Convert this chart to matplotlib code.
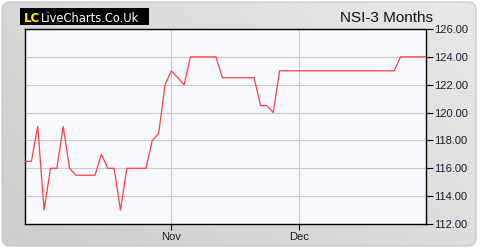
import numpy as np
import pandas as pd
import matplotlib
matplotlib.use('Agg')
import matplotlib.pyplot as plt
from matplotlib.patches import FancyBboxPatch, Rectangle

# Data
TITLE = 'NSI-3 Months'
# two November sessions are missing from the price feed
MISSING_DAYS = ['2023-11-14', '2023-11-21']
DATES = pd.bdate_range('2023-09-29', '2023-12-29', freq='C', holidays=MISSING_DAYS)
PRICES = [116.5, 116.5, 119.0, 113.0, 116.0, 116.0, 119.0, 116.0, 115.5, 115.5,
          115.5, 115.5, 117.0, 116.0, 116.0, 113.0, 116.0, 116.0, 116.0, 116.0,
          118.0, 118.5, 122.0, 123.0, 122.5, 122.0, 124.0, 124.0, 124.0, 124.0,
          124.0, 122.5, 122.5, 122.5, 122.5, 122.5, 122.5, 120.5, 120.5, 120.0,
          123.0, 123.0, 123.0, 123.0, 123.0, 123.0, 123.0, 123.0, 123.0, 123.0,
          123.0, 123.0, 123.0, 123.0, 123.0, 123.0, 123.0, 123.0, 123.0, 124.0,
          124.0, 124.0, 124.0, 124.0]
MONTH_LABELS = ['Nov', 'Dec']
Y_TICKS = [112, 114, 116, 118, 120, 122, 124, 126]

W, H = 480, 250
fig = plt.figure(figsize=(W / 100, H / 100), dpi=100)
fig.patch.set_facecolor('white')

# gray gradient panel with rounded corners
bg = fig.add_axes([0, 0, 1, 1])
bg.set_xlim(0, W)
bg.set_ylim(0, H)
bg.axis('off')
gx, gy = np.meshgrid(np.linspace(0, 1, 200), np.linspace(0, 1, 100))
grad = 0.80 + 0.11 * (0.6 * gx + 0.4 * gy)
panel = FancyBboxPatch((2, 4), W - 6, H - 6, boxstyle='round,pad=0,rounding_size=8',
                       facecolor='none', edgecolor='#c4c4c4', lw=0.8)
bg.add_patch(panel)
img = bg.imshow(grad, cmap='gray', vmin=0, vmax=1, extent=[0, W, 0, H],
                origin='lower', aspect='auto')
img.set_clip_path(panel)

# logo
bg.add_patch(Rectangle((20, H - 25), 129, 17, facecolor='black', edgecolor='none'))
bg.text(24, H - 21.5, 'LC', color='#ffee00', fontsize=8.5, fontweight='bold',
        family='DejaVu Sans', va='baseline')
bg.text(41, H - 21.5, 'LiveCharts.Co.Uk', color='white', fontsize=8.3,
        family='DejaVu Sans', va='baseline')
bg.text(433, H - 22, TITLE, color='#111111', fontsize=11,
        family='Liberation Sans', ha='right', va='baseline')

# price chart
ax = fig.add_axes([25 / W, 26 / H, 401 / W, 195 / H])
ax.set_facecolor('#f8f9ff')
x = np.arange(len(PRICES))
ax.plot(x, PRICES, color='#ff4040', lw=0.9, zorder=3)

ax.set_xlim(0, len(PRICES) - 1)
ax.set_ylim(Y_TICKS[0], Y_TICKS[-1])

labels = [d.strftime('%b') for d in DATES]
month_starts = [labels.index(m) for m in MONTH_LABELS]
ax.set_xticks(month_starts)
ax.set_xticklabels(MONTH_LABELS)
ax.set_yticks(Y_TICKS)
ax.set_yticklabels([f'{v:.2f}' for v in Y_TICKS])
ax.yaxis.tick_right()

ax.grid(True, color='#c8c8c8', lw=0.8)
ax.set_axisbelow(True)
for s in ax.spines.values():
    s.set_color('black')
    s.set_linewidth(1.0)
ax.tick_params(axis='y', length=5, width=0.8, pad=1, labelsize=8, colors='black')
ax.tick_params(axis='x', length=4, width=0.8, pad=2, labelsize=8, colors='black')
for lbl in ax.get_xticklabels() + ax.get_yticklabels():
    lbl.set_family('Liberation Sans')
    lbl.set_color('#1a1a2e')

fig.savefig('out.png', dpi=100, facecolor='white')
